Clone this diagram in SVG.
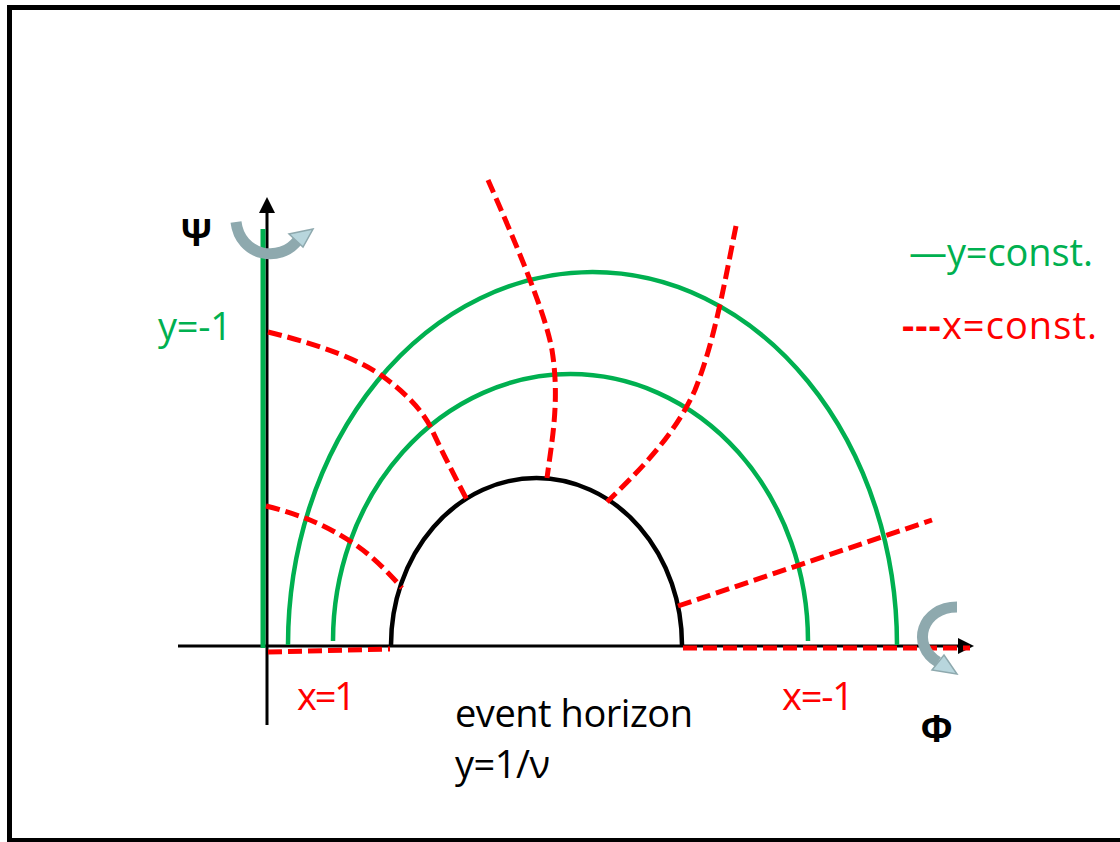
<svg xmlns="http://www.w3.org/2000/svg" width="1120" height="842" viewBox="0 0 1120 842">
<style>
.ax{stroke:#000;stroke-width:3;fill:none}
.g{stroke:#00b050;stroke-width:4.5;fill:none}
.r{stroke:#ff0000;stroke-width:5;fill:none;stroke-dasharray:14 6}
.hz{stroke:#000;stroke-width:4.5;fill:none}
.t{font-family:"Open Sans","Liberation Sans",sans-serif;font-size:38px}
.rot{stroke:#8ea9ae;stroke-width:11;fill:none}
.rh{fill:#b8d6dd;stroke:#8ea9ae;stroke-width:1.5}
.gk{font-family:"Liberation Sans",sans-serif;font-weight:bold;font-size:38px}
</style>
<rect x="9.5" y="7.5" width="1140" height="833" fill="#fff" stroke="#000" stroke-width="5"/>
<g id="axes">
<line class="ax" x1="267" y1="725" x2="267" y2="210"/>
<polygon points="267,197 259,213 275,213" fill="#000"/>
<line class="ax" x1="178" y1="646" x2="960" y2="646"/>
<polygon points="974,646 958,638 958,654" fill="#000"/>
</g>
<g id="y-lines">
<line x1="263" y1="229" x2="263" y2="648" stroke="#00b050" stroke-width="5"/>
<path class="g" d="M288,645 A304.5,373 0 0 1 897,645"/>
<path class="g" d="M333,641 A237.5,267 0 0 1 808,641"/>
</g>
<g id="horizon">
<path class="hz" d="M391,645 A145.5,167 0 0 1 682,645"/>
</g>
<g id="x-lines">
<path class="r" d="M268,332 Q350,352 385,378 T432,430 T467,500"/>
<path class="r" d="M266,506 Q290,512 310,520 T353,543 T402,588"/>
<path class="r" d="M488,180 C510,230 545,310 552,350 C560,400 552,440 547,478"/>
<path class="r" d="M736,226 C725,280 715,340 695,390 C675,435 640,470 607,502"/>
<path class="r" d="M678,606 L932,520"/>
<path class="r" d="M268,652 L390,649"/>
<path class="r" d="M683,648 L970,648"/>
</g>
<g id="rot-psi">
<path class="rot" d="M236,222 C240,256 280,264 298,240"/>
<polygon class="rh" points="313,229 289,234 303,247"/>
</g>
<g id="rot-phi">
<path class="rot" d="M957,607 C922,607 910,645 938,662"/>
<polygon class="rh" points="957,674 932,670 944,655"/>
</g>
<g id="labels">
<text class="gk" x="181" y="246" textLength="28">Ψ</text>
<text class="gk" x="921" y="742" textLength="27">Φ</text>
<text class="t" x="158" y="340" fill="#00b050" textLength="74">y=-1</text>
<text class="t" x="909" y="266" fill="#00b050" textLength="184">—y=const.</text>
<text class="t" x="902" y="339" fill="#ff0000" textLength="195" font-weight="bold"><tspan>---</tspan><tspan font-weight="normal">x=const.</tspan></text>
<text class="t" x="297" y="710" fill="#ff0000" textLength="59">x=1</text>
<text class="t" x="782" y="710" fill="#ff0000" textLength="72">x=-1</text>
<text class="t" x="455" y="727" fill="#000" textLength="238">event horizon</text>
<text class="t" x="455" y="778" fill="#000" textLength="95">y=1/ν</text>
</g>
</svg>
